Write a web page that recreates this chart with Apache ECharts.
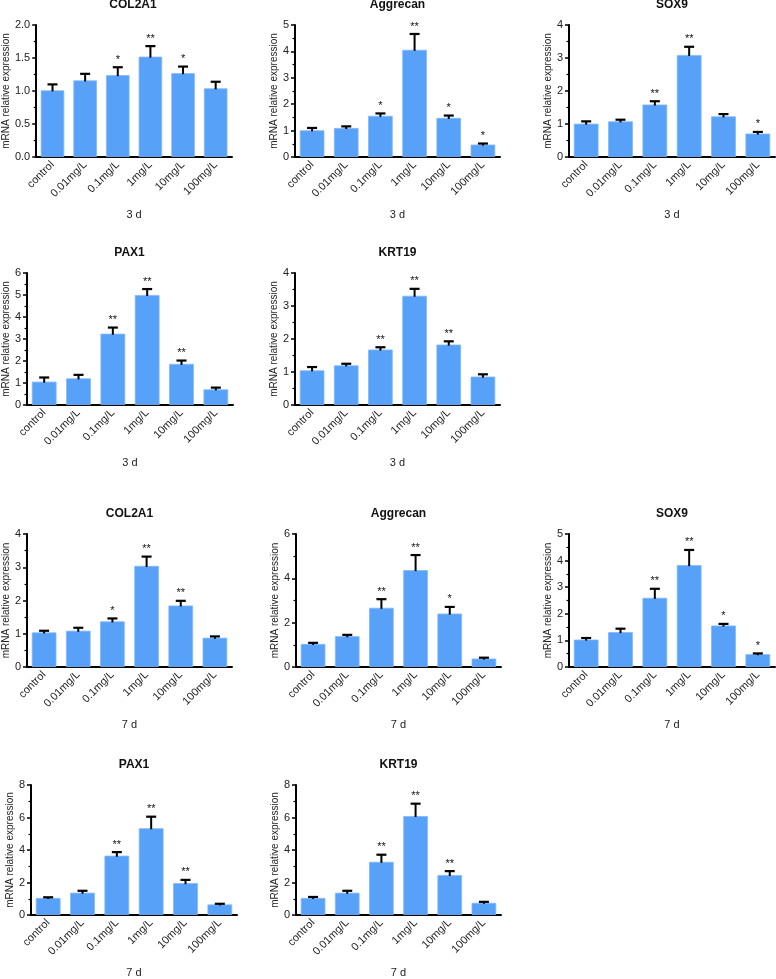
<!DOCTYPE html>
<html><head><meta charset="utf-8">
<script src="https://cdn.jsdelivr.net/npm/echarts@6/dist/echarts.min.js"></script>
<style>html,body{margin:0;padding:0;background:#fff}#c{width:776px;height:979px}</style>
</head><body><div id="c"></div>
<script>
const categories = ['control','0.01mg/L','0.1mg/L','1mg/L','10mg/L','100mg/L'];

const col2a1_3d      = [1.01, 1.16, 1.24, 1.52, 1.27, 1.04];
const col2a1_3d_sd   = [0.09, 0.10, 0.12, 0.16, 0.10, 0.10];
const col2a1_3d_sig  = ['', '', '*', '**', '*', ''];

const aggrecan_3d     = [1.01, 1.10, 1.56, 4.06, 1.48, 0.47];
const aggrecan_3d_sd  = [0.09, 0.06, 0.09, 0.60, 0.09, 0.04];
const aggrecan_3d_sig = ['', '', '*', '**', '*', '*'];

const sox9_3d     = [1.01, 1.08, 1.59, 3.09, 1.23, 0.71];
const sox9_3d_sd  = [0.07, 0.05, 0.10, 0.25, 0.07, 0.05];
const sox9_3d_sig = ['', '', '**', '**', '', '*'];

const pax1_3d     = [1.06, 1.21, 3.24, 5.00, 1.87, 0.71];
const pax1_3d_sd  = [0.19, 0.16, 0.28, 0.27, 0.15, 0.08];
const pax1_3d_sig = ['', '', '**', '**', '**', ''];

const krt19_3d     = [1.05, 1.20, 1.68, 3.31, 1.83, 0.86];
const krt19_3d_sd  = [0.10, 0.05, 0.07, 0.21, 0.10, 0.07];
const krt19_3d_sig = ['', '', '**', '**', '**', ''];

const col2a1_7d     = [1.04, 1.09, 1.37, 3.04, 1.85, 0.88];
const col2a1_7d_sd  = [0.05, 0.09, 0.09, 0.28, 0.14, 0.04];
const col2a1_7d_sig = ['', '', '*', '**', '**', ''];

const aggrecan_7d     = [1.04, 1.39, 2.67, 4.37, 2.41, 0.38];
const aggrecan_7d_sd  = [0.05, 0.06, 0.39, 0.68, 0.30, 0.04];
const aggrecan_7d_sig = ['', '', '**', '**', '*', ''];

const sox9_7d     = [1.03, 1.31, 2.60, 3.83, 1.56, 0.48];
const sox9_7d_sd  = [0.06, 0.13, 0.34, 0.57, 0.06, 0.03];
const sox9_7d_sig = ['', '', '**', '**', '*', '*'];

const pax1_7d     = [1.05, 1.37, 3.65, 5.34, 1.96, 0.65];
const pax1_7d_sd  = [0.04, 0.12, 0.22, 0.71, 0.20, 0.04];
const pax1_7d_sig = ['', '', '**', '**', '**', ''];

const krt19_7d     = [1.05, 1.37, 3.27, 6.09, 2.46, 0.75];
const krt19_7d_sd  = [0.06, 0.12, 0.44, 0.76, 0.24, 0.06];
const krt19_7d_sig = ['', '', '**', '**', '**', ''];

const panels = [
  {title:'COL2A1',   day:'3 d', mean:col2a1_3d,   sd:col2a1_3d_sd,   sig:col2a1_3d_sig,   max:2, interval:0.5, dec:1, grid:{left:34, top:25, width:198, height:132}, nameGap:23},
  {title:'Aggrecan', day:'3 d', mean:aggrecan_3d, sd:aggrecan_3d_sd, sig:aggrecan_3d_sig, max:5, interval:1, dec:0, grid:{left:295, top:25, width:205, height:132}, nameGap:15},
  {title:'SOX9',     day:'3 d', mean:sox9_3d,     sd:sox9_3d_sd,     sig:sox9_3d_sig,     max:4, interval:1, dec:0, grid:{left:569, top:25, width:206, height:132}, nameGap:15},
  {title:'PAX1',     day:'3 d', mean:pax1_3d,     sd:pax1_3d_sd,     sig:pax1_3d_sig,     max:6, interval:1, dec:0, grid:{left:26, top:273, width:207, height:132}, nameGap:15},
  {title:'KRT19',    day:'3 d', mean:krt19_3d,    sd:krt19_3d_sd,    sig:krt19_3d_sig,    max:4, interval:1, dec:0, grid:{left:295, top:273, width:205, height:132}, nameGap:15},
  {title:'COL2A1',   day:'7 d', mean:col2a1_7d,   sd:col2a1_7d_sd,   sig:col2a1_7d_sig,   max:4, interval:1, dec:0, grid:{left:27, top:534, width:205, height:133}, nameGap:15},
  {title:'Aggrecan', day:'7 d', mean:aggrecan_7d, sd:aggrecan_7d_sd, sig:aggrecan_7d_sig, max:6, interval:2, dec:0, grid:{left:296, top:534, width:205, height:133}, nameGap:15},
  {title:'SOX9',     day:'7 d', mean:sox9_7d,     sd:sox9_7d_sd,     sig:sox9_7d_sig,     max:5, interval:1, dec:0, grid:{left:569, top:534, width:206, height:133}, nameGap:15},
  {title:'PAX1',     day:'7 d', mean:pax1_7d,     sd:pax1_7d_sd,     sig:pax1_7d_sig,     max:8, interval:2, dec:0, grid:{left:31, top:785, width:206, height:132}, nameGap:15},
  {title:'KRT19',    day:'7 d', mean:krt19_7d,    sd:krt19_7d_sd,    sig:krt19_7d_sig,    max:8, interval:2, dec:0, grid:{left:296, top:785, width:205, height:132}, nameGap:15}
];

const FONT = 'Liberation Sans';
const BAR = '#58a1f8';
const grids = [], xAxes = [], yAxes = [], series = [], graphics = [];

panels.forEach(function(p, k){
  grids.push(Object.assign({containLabel:false}, p.grid));
  xAxes.push({
    type:'category', gridIndex:k, data:categories,
    axisLine:{lineStyle:{color:'#000', width:2}},
    axisTick:{alignWithLabel:true, length:4, lineStyle:{color:'#000', width:1.5}},
    axisLabel:{rotate:45, fontSize:11, fontFamily:FONT, color:'#222', margin:6, interval:0},
    name:p.day, nameLocation:'middle', nameGap:52,
    nameTextStyle:{fontSize:11, fontFamily:FONT, color:'#222'}
  });
  yAxes.push({
    type:'value', gridIndex:k, min:0, max:p.max, interval:p.interval,
    axisLine:{show:true, lineStyle:{color:'#000', width:2}},
    axisTick:{show:true, length:4, lineStyle:{color:'#000', width:1.5}},
    minorTick:{show:true, splitNumber:2, length:2.5, lineStyle:{color:'#000', width:1.2}},
    splitLine:{show:false},
    axisLabel:{fontSize:11, fontFamily:FONT, color:'#222', margin:6,
      formatter:function(v){ return v.toFixed(p.dec); }},
    name:'mRNA relative expression', nameLocation:'middle', nameGap:p.nameGap,
    nameTextStyle:{fontSize:10, fontFamily:FONT, color:'#222'}
  });
  series.push({
    type:'bar', xAxisIndex:k, yAxisIndex:k, data:p.mean, barWidth:'72%',
    itemStyle:{color:BAR, borderColor:'#7fb8fb', borderWidth:0.8}, silent:true
  });
  series.push({
    type:'custom', xAxisIndex:k, yAxisIndex:k, silent:true, z:5,
    data:p.mean.map(function(m,i){ return [i, m, p.sd[i]]; }),
    renderItem:function(params, api){
      const i = api.value(0), m = api.value(1), s = api.value(2);
      const p0 = api.coord([i, m]);
      const p1 = api.coord([i, m + s]);
      const half = 5;
      const ch = [
        {type:'line', shape:{x1:p0[0], y1:p0[1]+1, x2:p1[0], y2:p1[1]}, style:{stroke:'#000', lineWidth:2}},
        {type:'line', shape:{x1:p1[0]-half, y1:p1[1], x2:p1[0]+half, y2:p1[1]}, style:{stroke:'#000', lineWidth:2.2}}
      ];
      const sg = p.sig[params.dataIndex];
      if (sg) ch.push({type:'text', x:p1[0], y:p1[1]-2,
        style:{text:sg, fill:'#111', font:'11px "Liberation Sans"', align:'center', verticalAlign:'bottom'}});
      return {type:'group', children:ch};
    }
  });
  graphics.push({
    type:'text', x:p.grid.left + p.grid.width/2, y:p.grid.top - 20,
    style:{text:p.title, fill:'#111', font:'bold 12px "Liberation Sans"', align:'center', verticalAlign:'middle'}
  });
});

const chart = echarts.init(document.getElementById('c'), null, {renderer:'canvas'});
chart.setOption({
  animation:false, backgroundColor:'#fff',
  grid:grids, xAxis:xAxes, yAxis:yAxes, series:series, graphic:graphics
});
</script></body></html>
